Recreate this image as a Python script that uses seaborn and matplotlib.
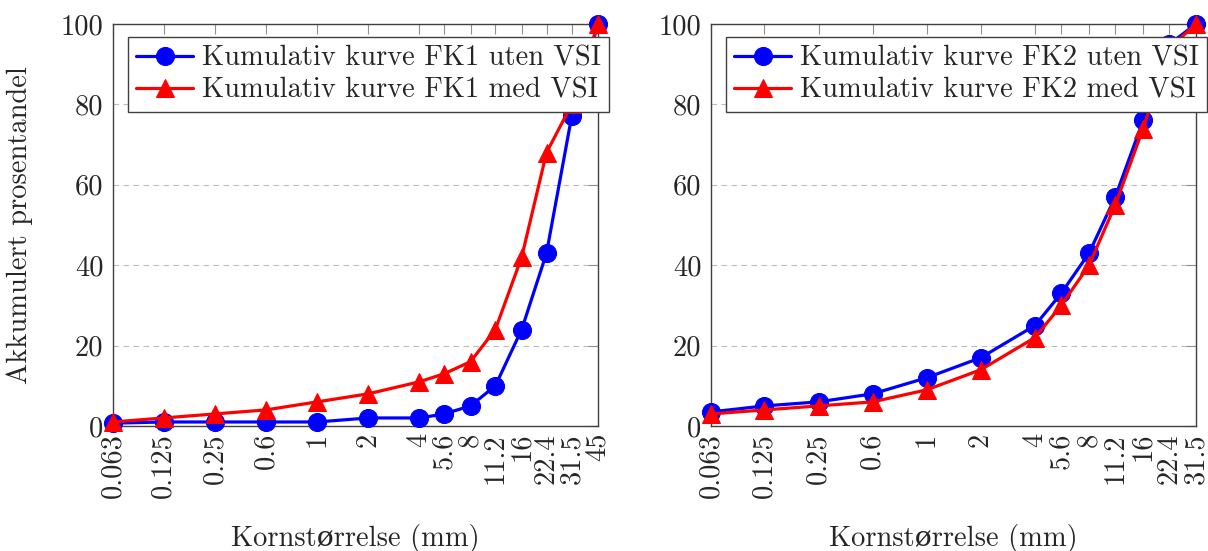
import matplotlib
matplotlib.use("Agg")
import matplotlib.pyplot as plt
import seaborn as sns

# Sieve sizes (mm) used as x positions on a log2 axis, and their printed labels
sieve_fk1 = [0.063, 0.125, 0.25, 0.5, 1, 2, 4, 5.6, 8, 11.2, 16, 22.4, 31.5, 45]
labels_fk1 = ["0.063", "0.125", "0.25", "0.6", "1", "2", "4", "5.6", "8",
              "11.2", "16", "22.4", "31.5", "45"]
fk1_uten = [0.7, 1, 1, 1, 1, 2, 2, 3, 5, 10, 24, 43, 77, 100]
fk1_med = [1, 2, 3, 4, 6, 8, 11, 13, 16, 24, 42, 68, 80, 100]

sieve_fk2 = [0.063, 0.125, 0.25, 0.5, 1, 2, 4, 5.6, 8, 11.2, 16, 22.4, 31.5]
labels_fk2 = ["0.063", "0.125", "0.25", "0.6", "1", "2", "4", "5.6", "8",
              "11.2", "16", "22.4", "31.5"]
fk2_uten = [3.5, 5, 6, 8, 12, 17, 25, 33, 43, 57, 76, 95, 100]
fk2_med = [3, 4, 5, 6, 9, 14, 22, 30, 40, 55, 74, 94, 100]

yticks = [0, 20, 40, 60, 80, 100]

sns.set_theme(style="white")
plt.rcParams["font.family"] = ["cmr10", "DejaVu Serif"]
plt.rcParams["axes.formatter.use_mathtext"] = True
plt.rcParams["mathtext.fontset"] = "cm"

FS = 20.5
W, H = 1208, 551
fig = plt.figure(figsize=(W / 100, H / 100), dpi=100)

def make_axes(x0, x1, y0=24, y1=426):
    return fig.add_axes([x0 / W, (H - y1) / H, (x1 - x0) / W, (y1 - y0) / H])

ax1 = make_axes(113, 598)
ax2 = make_axes(711, 1196)

def draw(ax, x, uten, med, labels, name, legend_anchor):
    sns.lineplot(x=x, y=uten, ax=ax, color="blue", marker="o", markersize=13,
                 markeredgecolor="blue", linewidth=2.3,
                 label=f"Kumulativ kurve {name} uten VSI", zorder=3)
    sns.lineplot(x=x, y=med, ax=ax, color="red", marker="^", markersize=13,
                 markeredgecolor="red", linewidth=2.3,
                 label=f"Kumulativ kurve {name} med VSI", zorder=4)
    ax.set_xscale("log", base=2)
    ax.set_xlim(x[0], x[-1])
    ax.set_ylim(0, 100)
    ax.set_xticks(x)
    ax.set_xticklabels(labels, rotation=90, fontsize=FS)
    ax.minorticks_off()
    ax.set_yticks(yticks)
    ax.set_yticklabels([str(v) for v in yticks], fontsize=FS)
    ax.tick_params(axis="both", direction="in", top=True, right=True,
                   length=7, width=0.8, color="#909090")
    ax.tick_params(axis="x", pad=5)
    ax.tick_params(axis="y", pad=7)
    ax.grid(axis="y", color="#bbbbbb", linestyle=(0, (5, 4)), linewidth=0.8)
    ax.grid(axis="x", visible=False)
    for sp in ax.spines.values():
        sp.set_color("#404040")
        sp.set_linewidth(1.0)
    ax.set_xlabel("Kornstørrelse (mm)", fontsize=FS, labelpad=19)
    leg = ax.legend(loc="upper right", bbox_to_anchor=legend_anchor,
                    borderaxespad=0, fontsize=FS, frameon=True, fancybox=False,
                    edgecolor="#404040", framealpha=1, handlelength=2.0,
                    handletextpad=0.3, borderpad=0.3, labelspacing=0.2)
    leg.get_frame().set_linewidth(1.0)
    leg.set_zorder(10)

draw(ax1, sieve_fk1, fk1_uten, fk1_med, labels_fk1, "FK1", (1.023, 0.968))
draw(ax2, sieve_fk2, fk2_uten, fk2_med, labels_fk2, "FK2", (1.023, 0.968))
ax1.set_ylabel("Akkumulert prosentandel", fontsize=FS, labelpad=20)

for ax in (ax1, ax2):
    for line in ax.lines:
        line.set_clip_on(False)

fig.savefig("out.png", dpi=100, facecolor="white")
